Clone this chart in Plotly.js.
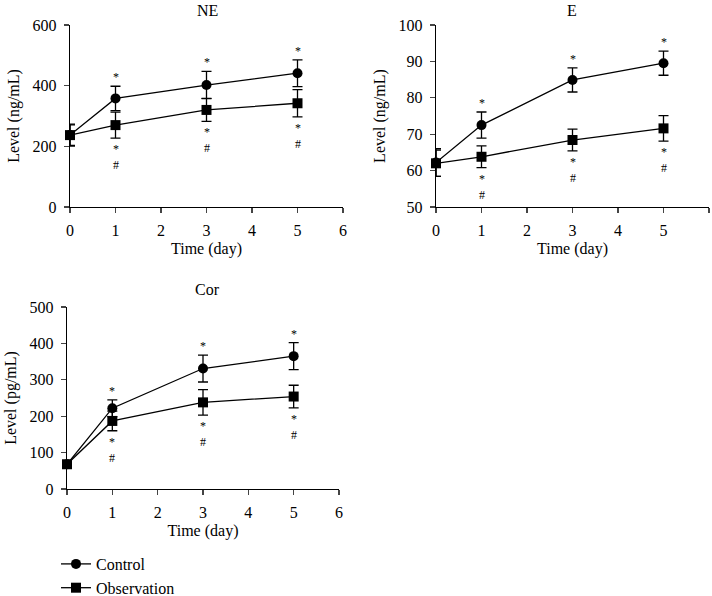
<!DOCTYPE html>
<html>
<head>
<meta charset="utf-8">
<script src="https://cdn.plot.ly/plotly-3.0.1.min.js"></script>
<style>html,body{margin:0;padding:0;background:#fff}#chart{width:712px;height:596px}</style>
</head>
<body>
<div id="chart"></div>
<script>
const days = [0, 1, 3, 5];
const xTicks = [0, 1, 2, 3, 4, 5, 6];

const neControl = [237, 358, 402, 441];
const neControlErr = [36, 40, 45, 44];
const neObs = [237, 270, 320, 342];
const neObsErr = [34, 43, 38, 45];

const eControl = [62.2, 72.5, 84.9, 89.5];
const eControlErr = [3.8, 3.6, 3.3, 3.3];
const eObs = [62.0, 63.8, 68.4, 71.6];
const eObsErr = [3.6, 3.0, 3.0, 3.5];

const corControl = [68, 222, 331, 365];
const corControlErr = [10, 23, 37, 37];
const corObs = [68, 187, 238, 254];
const corObsErr = [10, 27, 35, 31];

const sigControl = ['', '*', '*', '*'];
const sigObs = ['', '*<br>#', '*<br>#', '*<br>#'];

const panelTitles = ['NE', 'E', 'Cor'];
const yTitles = ['Level (ng/mL)', 'Level (ng/mL)', 'Level (pg/mL)'];
const seriesNames = ['Control', 'Observation'];

const FONT = 'Liberation Serif, Times New Roman, serif';
const FS = 16;
const panels = [
  {ctl: neControl, ctlErr: neControlErr, obs: neObs, obsErr: neObsErr, xa: 'x', ya: 'y'},
  {ctl: eControl, ctlErr: eControlErr, obs: eObs, obsErr: eObsErr, xa: 'x2', ya: 'y2'},
  {ctl: corControl, ctlErr: corControlErr, obs: corObs, obsErr: corObsErr, xa: 'x3', ya: 'y3'}
];

const traces = [];
const annotations = [];
const sigFont = {family: FONT, size: 12, color: '#000'};
panels.forEach((p, i) => {
  const common = {x: days, xaxis: p.xa, yaxis: p.ya, mode: 'lines+markers', cliponaxis: false,
    line: {color: '#000', width: 1.3}};
  traces.push(Object.assign({}, common, {
    y: p.ctl, name: seriesNames[0], legendgroup: 'c', showlegend: i === 0,
    marker: {symbol: 'circle', size: 10, color: '#000'},
    error_y: {type: 'data', array: p.ctlErr, visible: true, color: '#000', thickness: 1.3, width: 5}
  }));
  traces.push(Object.assign({}, common, {
    y: p.obs, name: seriesNames[1], legendgroup: 'o', showlegend: i === 0,
    marker: {symbol: 'square', size: 10, color: '#000'},
    error_y: {type: 'data', array: p.obsErr, visible: true, color: '#000', thickness: 1.3, width: 5}
  }));
  days.forEach((d, k) => {
    if (sigControl[k]) annotations.push({x: d, y: p.ctl[k] + p.ctlErr[k], xref: p.xa, yref: p.ya,
      text: sigControl[k], showarrow: false, yanchor: 'bottom', yshift: 0, font: sigFont});
    if (sigObs[k]) annotations.push({x: d, y: p.obs[k] - p.obsErr[k], xref: p.xa, yref: p.ya,
      text: sigObs[k], showarrow: false, yanchor: 'top', yshift: -2, font: sigFont});
  });
});

function xax(domain, anchor) {
  return {domain: domain, anchor: anchor, range: [0, 6], tickvals: xTicks, ticks: 'outside', ticklen: 5,
    tickwidth: 1.2, showline: true, linecolor: '#000', linewidth: 1.2, showgrid: false, zeroline: false,
    ticklabelstandoff: 4,
    tickfont: {family: FONT, size: FS, color: '#000'},
    title: {text: 'Time (day)', font: {family: FONT, size: FS, color: '#000'}, standoff: 4}};
}
function yax(domain, anchor, range, dtick, title) {
  return {domain: domain, anchor: anchor, range: range, dtick: dtick, ticks: 'outside', ticklen: 5,
    tickwidth: 1.2, showline: true, linecolor: '#000', linewidth: 1.2, showgrid: false, zeroline: false,
    ticklabelstandoff: 4,
    tickfont: {family: FONT, size: FS, color: '#000'},
    title: {text: title, font: {family: FONT, size: FS, color: '#000'}, standoff: 9}};
}

const W = 712, H = 596;
const px = v => v / W, py = v => 1 - v / H;

const titlePos = [[207, 10], [572, 10], [207, 289]];
titlePos.forEach((tp, i) => annotations.push({x: px(tp[0]), y: py(tp[1]), xref: 'paper', yref: 'paper',
  text: panelTitles[i], showarrow: false, xanchor: 'center', yanchor: 'middle',
  font: {family: FONT, size: FS, color: '#000'}}));

const layout = {
  width: W, height: H, margin: {l: 0, r: 0, t: 0, b: 0, pad: 0, autoexpand: false},
  paper_bgcolor: '#fff', plot_bgcolor: '#fff',
  font: {family: FONT, color: '#000'},
  xaxis: xax([px(70), px(343)], 'y'),
  yaxis: yax([py(207), py(25)], 'x', [0, 600], 200, yTitles[0]),
  xaxis2: xax([px(436), px(709)], 'y2'),
  yaxis2: yax([py(207), py(25)], 'x2', [50, 100], 10, yTitles[1]),
  xaxis3: xax([px(67), px(339)], 'y3'),
  yaxis3: yax([py(489), py(307)], 'x3', [0, 500], 100, yTitles[2]),
  showlegend: true,
  legend: {x: px(56), y: py(547), xanchor: 'left', yanchor: 'top', orientation: 'v',
    font: {family: FONT, size: FS, color: '#000'}, itemwidth: 30, tracegroupgap: 0,
    bgcolor: 'rgba(0,0,0,0)'},
  annotations: annotations
};

Plotly.newPlot('chart', traces, layout, {displayModeBar: false, staticPlot: true});
</script>
</body>
</html>
